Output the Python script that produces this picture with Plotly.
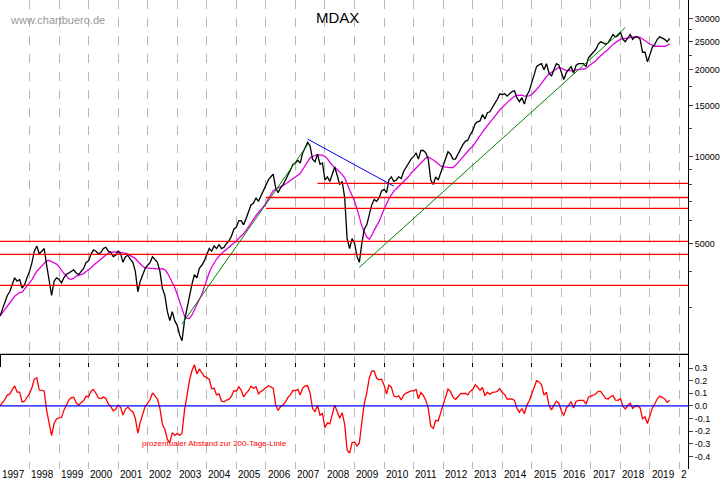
import pandas as pd
import numpy as np
import plotly.graph_objects as go

years = list(range(1997, 2020))
mdax_monthly = [
2800,2950,3100,3300,3400,3600,3800,3700,3750,3500,3600,3800,
4000,4300,4700,4900,4600,4700,4800,4200,3700,3300,3700,3800,
3750,3650,3800,3900,3950,4000,4050,3950,3900,4000,4100,4300,
4350,4600,4750,4700,4600,4650,4800,4850,4700,4650,4500,4550,
4700,4600,4300,4500,4550,4400,4300,4000,3400,3700,3900,4100,
4200,4300,4500,4400,4300,4000,3500,3300,2900,2700,2900,2700,
2600,2400,2300,2700,3000,3300,3600,3900,3800,4100,4200,4350,
4600,4800,4700,4900,4800,4950,4800,4850,5000,5100,5300,5600,
5700,6000,6000,5800,6100,6400,6800,6900,7200,7000,7300,7600,
7900,8300,8500,8700,7800,7500,7800,8000,8300,8700,9000,9400,
9500,9700,9500,10300,10800,11200,10900,9800,9600,10200,9400,9500,
8300,8500,8200,8700,9200,8600,8000,8200,7200,5200,4800,5200,
5000,4500,4300,5000,5600,5800,6300,6800,7100,7000,7200,7600,
7700,7500,8300,8500,8200,8300,8500,8400,8900,9200,9500,9800,
10000,10300,9800,10500,10500,10300,9800,8300,8000,8500,8300,8800,
9300,10000,10400,10200,9800,9800,10200,10700,11000,11300,11400,11900,
12300,13000,13200,13300,14000,13500,14200,14300,14900,15300,15800,16500,
16400,16500,16200,16500,16800,16900,16000,15500,16000,15200,16300,16900,
18000,19500,20500,20800,21000,20000,21000,19500,19000,20000,21000,20800,
19500,18500,19500,20000,20500,19500,20700,21000,21000,21000,20500,22000,
22500,23000,23500,24500,25000,24800,24500,24800,25800,26500,26000,26300,
27000,25500,25000,25800,26500,25500,26000,26000,25500,23000,23000,21300,
22500,24000,24500,25500,26000,25800,25500,25000,25700,
]
dates = pd.date_range("1997-01-01", periods=len(mdax_monthly), freq="MS")

price_ticks = [5000, 10000, 15000, 20000, 25000, 30000]
osc_ticks = [0.3, 0.2, 0.1, 0.0, -0.1, -0.2, -0.3, -0.4]

support_levels = [8070, 7215, 6610, 5080, 4580, 3580]
support_starts = ["2007-10-01", "2006-01-01", "2006-01-01", "1997-01-01", "1997-01-01", "1997-01-01"]

trend_green1 = (["2003-03-01", "2007-06-01"], [2630, 11000])
trend_green2 = (["2009-03-01", "2018-03-01"], [4130, 28000])
trend_blue = (["2007-06-01", "2010-05-01"], [11500, 7900])

s = pd.Series(mdax_monthly, index=dates, dtype=float)
ma200 = s.rolling(10, min_periods=1).mean()
osc = s / ma200 - 1

fig = go.Figure()
fig.add_trace(go.Scatter(x=dates, y=ma200, mode="lines", line=dict(color="#e000e0", width=1.3), yaxis="y"))
fig.add_trace(go.Scatter(x=dates, y=s, mode="lines", line=dict(color="black", width=1.3), yaxis="y"))
fig.add_trace(go.Scatter(x=dates, y=osc, mode="lines", line=dict(color="red", width=1.3), yaxis="y2"))

shapes = []
for lvl, st in zip(support_levels, support_starts):
    shapes.append(dict(type="line", xref="x", yref="y", x0=st, x1="2020-04-15", y0=lvl, y1=lvl,
                       line=dict(color="red", width=1.3)))
for (tx, ty), c in [(trend_green1, "green"), (trend_green2, "green"), (trend_blue, "blue")]:
    shapes.append(dict(type="line", xref="x", yref="y", x0=tx[0], x1=tx[1], y0=ty[0], y1=ty[1],
                       line=dict(color=c, width=1)))
shapes.append(dict(type="line", xref="x", yref="y2", x0="1997-01-01", x1="2020-04-15", y0=0, y1=0,
                   line=dict(color="blue", width=1.3)))
shapes.append(dict(type="line", xref="paper", yref="paper", x0=0, x1=1, y0=0.2447, y1=0.2447,
                   line=dict(color="black", width=1)))

annotations = [
    dict(text="MDAX", x=0.49, y=0.985, xref="paper", yref="paper", showarrow=False,
         font=dict(size=15, color="black", family="Liberation Sans")),
    dict(text="www.chartbuero.de", x=0.012, y=0.975, xref="paper", yref="paper", xanchor="left",
         showarrow=False, font=dict(size=11, color="#999999", family="Liberation Sans")),
    dict(text="prozentualer Abstand zur 200-Tage-Linie", x="2001-10-01", y=-0.3, xref="x", yref="y2",
         xanchor="left", showarrow=False, font=dict(size=8, color="red", family="Liberation Sans")),
]
for yv in years + [2020]:
    annotations.append(dict(text=str(yv) if yv < 2020 else "2", x=f"{yv}-01-10", y=0.002, xref="x", yref="paper",
                            xanchor="left", yanchor="top", showarrow=False, borderpad=0,
                            font=dict(size=10, color="black", family="Liberation Sans")))

tf = dict(size=9, family="Liberation Sans", color="black")
fig.update_layout(
    width=723, height=481, margin=dict(l=0, r=35, t=0, b=12),
    paper_bgcolor="white", plot_bgcolor="white", showlegend=False,
    shapes=shapes, annotations=annotations,
    xaxis=dict(type="date", range=["1997-01-01", "2020-04-15"], showticklabels=False, automargin=False,
               tickvals=[f"{y}-01-01" for y in years + [2020]], showgrid=True, gridcolor="#b8b8b8",
               griddash="dash", gridwidth=1, ticks="outside", ticklen=12, tickcolor="black",
               showline=True, linecolor="black", zeroline=False),
    yaxis=dict(type="log", domain=[0.2447, 1], range=[np.log10(2065), np.log10(34900)], side="right",
               tickvals=price_ticks, ticktext=[str(v) for v in price_ticks], showgrid=False, ticks="outside",
               ticklen=4, showline=True, linecolor="black", tickfont=tf, automargin=False,
               minor=dict(tickvals=[3000, 4000, 6000, 7000, 8000, 9000, 12500, 17500, 22500, 27500],
                          ticks="outside", ticklen=3)),
    yaxis2=dict(domain=[0, 0.2447], range=[-0.5, 0.41], side="right", tickvals=osc_ticks,
                ticktext=[f"{v:.1f}" for v in osc_ticks], showgrid=False, zeroline=False,
                ticks="outside", ticklen=4, showline=True, linecolor="black", automargin=False,
                tickfont=tf, anchor="x"),
)
fig.write_html("out.html", config={"displayModeBar": False},
               post_script="document.body.style.margin='0';document.body.style.overflow='hidden';")
